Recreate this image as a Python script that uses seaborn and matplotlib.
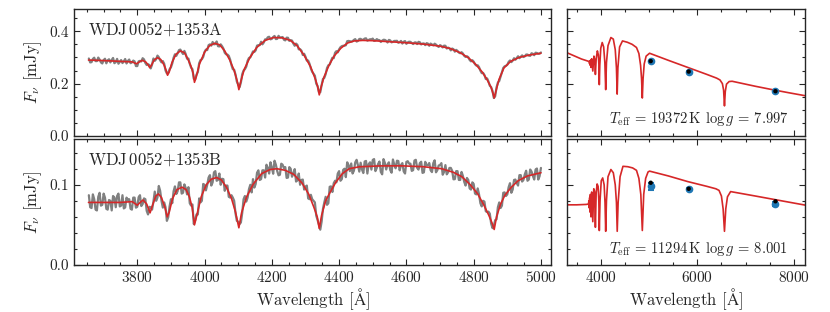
import numpy as np
import matplotlib
matplotlib.use("Agg")
import matplotlib.pyplot as plt
from matplotlib.ticker import MultipleLocator, FormatStrFormatter
import seaborn as sns

# ---- observed spectra (read off the figure, 4 A sampling:
#      "even" points at 3656+8k, "odd" points at 3660+8k) ----
wave_obs = np.arange(3656, 5001, 4)

flux_obs_A_even = [
    0.296, 0.282, 0.299, 0.286, 0.292, 0.277, 0.295, 0.289, 0.281, 0.298,
    0.282, 0.276, 0.290, 0.285, 0.277, 0.292, 0.281, 0.285, 0.267, 0.287,
    0.297, 0.279, 0.274, 0.258, 0.296, 0.293, 0.301, 0.281, 0.276, 0.239,
    0.255, 0.277, 0.312, 0.316, 0.330, 0.313, 0.313, 0.296, 0.261, 0.218,
    0.234, 0.278, 0.293, 0.321, 0.328, 0.350, 0.359, 0.351, 0.343, 0.350,
    0.334, 0.312, 0.306, 0.271, 0.253, 0.208, 0.186, 0.236, 0.255, 0.287,
    0.300, 0.323, 0.327, 0.347, 0.360, 0.357, 0.369, 0.379, 0.371, 0.382,
    0.371, 0.376, 0.378, 0.365, 0.375, 0.366, 0.353, 0.353, 0.331, 0.326,
    0.314, 0.288, 0.276, 0.245, 0.230, 0.191, 0.167, 0.218, 0.236, 0.270,
    0.287, 0.297, 0.324, 0.331, 0.343, 0.345, 0.362, 0.362, 0.362, 0.370,
    0.363, 0.371, 0.368, 0.373, 0.367, 0.369, 0.363, 0.370, 0.366, 0.364,
    0.367, 0.357, 0.365, 0.360, 0.363, 0.356, 0.363, 0.360, 0.352, 0.360,
    0.355, 0.357, 0.351, 0.358, 0.353, 0.347, 0.353, 0.353, 0.346, 0.349,
    0.340, 0.344, 0.345, 0.334, 0.335, 0.334, 0.322, 0.325, 0.316, 0.315,
    0.302, 0.301, 0.285, 0.284, 0.269, 0.263, 0.240, 0.233, 0.220, 0.192,
    0.172, 0.152, 0.204, 0.227, 0.260, 0.268, 0.283, 0.282, 0.297, 0.298,
    0.297, 0.308, 0.304, 0.311, 0.306, 0.314, 0.318, 0.314, 0.319,
]
flux_obs_A_odd = [
    0.281, 0.2945, 0.286, 0.2995, 0.281, 0.290, 0.2775, 0.293, 0.2905, 0.278,
    0.2945, 0.283, 0.2785, 0.294, 0.2865, 0.278, 0.288, 0.267, 0.285, 0.2845,
    0.2925, 0.271, 0.271, 0.273, 0.287, 0.307, 0.289, 0.286, 0.250, 0.241,
    0.262, 0.299, 0.306, 0.328, 0.321, 0.325, 0.295, 0.276, 0.255, 0.215,
    0.244, 0.290, 0.302, 0.330, 0.347, 0.345, 0.350, 0.361, 0.342, 0.343,
    0.318, 0.311, 0.292, 0.255, 0.235, 0.196, 0.204, 0.250, 0.265, 0.298,
    0.312, 0.321, 0.345, 0.347, 0.350, 0.369, 0.377, 0.369, 0.378, 0.370,
    0.3825, 0.3765, 0.3675, 0.3755, 0.363, 0.3645, 0.3445, 0.348, 0.3315, 0.3095,
    0.303, 0.288, 0.258, 0.238, 0.200, 0.167, 0.194, 0.222, 0.2595, 0.273,
    0.299, 0.318, 0.3195, 0.339, 0.3445, 0.3465, 0.363, 0.3605, 0.367, 0.3605,
    0.3705, 0.367, 0.372, 0.364, 0.3695, 0.372, 0.3645, 0.3665, 0.359, 0.3675,
    0.3635, 0.367, 0.3575, 0.363, 0.3635, 0.3585, 0.353, 0.3625, 0.3575, 0.3595,
    0.351, 0.3575, 0.3595, 0.3495, 0.3535, 0.3545, 0.3445, 0.3495, 0.3525, 0.344,
    0.347, 0.338, 0.3445, 0.3375, 0.327, 0.3315, 0.329, 0.3185, 0.320, 0.306,
    0.3045, 0.2905, 0.2895, 0.274, 0.270, 0.2495, 0.241, 0.2175, 0.208, 0.1865,
    0.145, 0.186, 0.210, 0.245, 0.266, 0.272, 0.2885, 0.288, 0.291, 0.3045,
    0.3025, 0.3015, 0.311, 0.307, 0.316, 0.3085, 0.317, 0.3145,
]

flux_obs_B_even = [
    0.087, 0.071, 0.082, 0.068, 0.090, 0.075, 0.084, 0.069, 0.080, 0.086,
    0.072, 0.089, 0.074, 0.0705, 0.084, 0.082, 0.069, 0.084, 0.0725, 0.087,
    0.076, 0.082, 0.063, 0.072, 0.079, 0.080, 0.0985, 0.080, 0.078, 0.055,
    0.073, 0.077, 0.098, 0.092, 0.103, 0.090, 0.096, 0.097, 0.074, 0.051,
    0.063, 0.083, 0.080, 0.100, 0.100, 0.112, 0.103, 0.117, 0.106, 0.100,
    0.107, 0.099, 0.085, 0.087, 0.080, 0.055, 0.051, 0.065, 0.086, 0.084,
    0.100, 0.107, 0.101, 0.118, 0.107, 0.118, 0.125, 0.114, 0.1215, 0.130,
    0.117, 0.1125, 0.125, 0.122, 0.109, 0.120, 0.114, 0.104, 0.114, 0.106,
    0.094, 0.099, 0.082, 0.082, 0.078, 0.056, 0.044, 0.070, 0.085, 0.077,
    0.098, 0.102, 0.103, 0.117, 0.107, 0.120, 0.128, 0.117, 0.114, 0.128,
    0.1242, 0.1275, 0.1146, 0.1297, 0.1258, 0.1189, 0.132, 0.121, 0.129, 0.113,
    0.1272, 0.1253, 0.1184, 0.1315, 0.1205, 0.1296, 0.1246, 0.1166, 0.1285, 0.1264,
    0.1173, 0.1302, 0.1211, 0.127, 0.1148, 0.1286, 0.1244, 0.1182, 0.127, 0.1155,
    0.124, 0.127, 0.116, 0.113, 0.121, 0.1175, 0.107, 0.117, 0.106, 0.111,
    0.099, 0.106, 0.094, 0.101, 0.088, 0.088, 0.073, 0.079, 0.066, 0.064,
    0.046, 0.056, 0.072, 0.071, 0.090, 0.086, 0.097, 0.090, 0.106, 0.102,
    0.112, 0.104, 0.113, 0.105, 0.119, 0.111, 0.119, 0.1065, 0.121,
]
flux_obs_B_odd = [
    0.072, 0.088, 0.069, 0.085, 0.074, 0.089, 0.070, 0.081, 0.068, 0.084,
    0.086, 0.073, 0.087, 0.0717, 0.081, 0.070, 0.084, 0.0715, 0.0845, 0.0735,
    0.083, 0.0675, 0.0725, 0.069, 0.0915, 0.084, 0.0925, 0.0715, 0.072, 0.0595,
    0.082, 0.092, 0.0885, 0.103, 0.089, 0.1005, 0.088, 0.077, 0.0755, 0.0555,
    0.063, 0.078, 0.101, 0.093, 0.109, 0.099, 0.1155, 0.105, 0.114, 0.1075,
    0.0925, 0.099, 0.084, 0.084, 0.0645, 0.054, 0.053, 0.082, 0.079, 0.0945,
    0.0905, 0.0965, 0.115, 0.106, 0.118, 0.109, 0.121, 0.128, 0.11375, 0.125,
    0.11175, 0.12625, 0.1205, 0.1085, 0.122, 0.110, 0.1195, 0.1055, 0.100, 0.1065,
    0.0975, 0.083, 0.0875, 0.080, 0.0615, 0.050, 0.054, 0.078, 0.075, 0.0975,
    0.091, 0.105, 0.114, 0.105, 0.1185, 0.1095, 0.1245, 0.1265, 0.1175, 0.1311,
    0.1164, 0.119, 0.129, 0.114, 0.128, 0.131, 0.117, 0.126, 0.116, 0.132,
    0.119, 0.128, 0.115, 0.125, 0.130, 0.118, 0.127, 0.114, 0.1294, 0.1263,
    0.1182, 0.1311, 0.1189, 0.1287, 0.1155, 0.1243, 0.1271, 0.1158, 0.1305, 0.1182,
    0.1245, 0.1125, 0.1245, 0.1155, 0.121, 0.1068, 0.117, 0.106, 0.116, 0.1035,
    0.1085, 0.0955, 0.103, 0.089, 0.0955, 0.077, 0.080, 0.067, 0.0665, 0.0515,
    0.049, 0.057, 0.078, 0.074, 0.0905, 0.088, 0.102, 0.094, 0.1065, 0.099,
    0.112, 0.106, 0.1175, 0.1065, 0.1165, 0.1065, 0.12025, 0.11075,
]

# ---- best-fit model spectra ----
wave_mod_A = [3655, 3700, 3750, 3785, 3793, 3798, 3805, 3815, 3825, 3832,
              3837, 3842, 3850, 3860, 3870, 3880, 3886, 3890, 3895, 3903,
              3915, 3928, 3940, 3950, 3960, 3966, 3970, 3975, 3985, 4000,
              4015, 4030, 4045, 4060, 4075, 4088, 4097, 4102, 4107, 4118,
              4135, 4155, 4180, 4205, 4230, 4255, 4275, 4295, 4315, 4330,
              4337, 4341, 4346, 4355, 4370, 4385, 4405, 4425, 4445, 4470,
              4500, 4550, 4600, 4650, 4700, 4730, 4760, 4785, 4805, 4825,
              4840, 4852, 4858, 4861, 4865, 4875, 4890, 4910, 4935, 4965,
              5000]
flux_mod_A = [0.290, 0.288, 0.285, 0.283, 0.278, 0.276, 0.282, 0.289, 0.283, 0.272,
              0.261, 0.270, 0.290, 0.299, 0.292, 0.270, 0.250, 0.232, 0.245, 0.280,
              0.312, 0.325, 0.318, 0.295, 0.265, 0.240, 0.205, 0.225, 0.275, 0.320,
              0.345, 0.354, 0.348, 0.325, 0.290, 0.250, 0.210, 0.177, 0.205, 0.255,
              0.300, 0.338, 0.365, 0.376, 0.375, 0.365, 0.345, 0.310, 0.265, 0.215,
              0.185, 0.157, 0.185, 0.225, 0.270, 0.305, 0.335, 0.355, 0.363, 0.365,
              0.364, 0.360, 0.356, 0.351, 0.343, 0.334, 0.318, 0.298, 0.275, 0.245,
              0.215, 0.185, 0.160, 0.145, 0.165, 0.215, 0.260, 0.285, 0.300, 0.309,
              0.316]

wave_mod_B = [3655, 3700, 3750, 3785, 3795, 3800, 3806, 3817, 3828, 3838,
              3845, 3855, 3863, 3872, 3882, 3889, 3895, 3905, 3918, 3933,
              3945, 3955, 3963, 3970, 3977, 3990, 4005, 4020, 4036, 4050,
              4065, 4080, 4092, 4102, 4110, 4125, 4145, 4170, 4195, 4215,
              4240, 4265, 4290, 4310, 4325, 4335, 4341, 4348, 4360, 4375,
              4390, 4410, 4430, 4460, 4520, 4585, 4650, 4705, 4740, 4765,
              4790, 4812, 4830, 4845, 4855, 4861, 4868, 4880, 4893, 4912,
              4932, 4960, 5000]
flux_mod_B = [0.078, 0.078, 0.078, 0.079, 0.076, 0.0745, 0.077, 0.081, 0.076, 0.065,
              0.074, 0.086, 0.0886, 0.084, 0.072, 0.060, 0.066, 0.083, 0.094, 0.097,
              0.094, 0.085, 0.072, 0.050, 0.062, 0.085, 0.100, 0.107, 0.109, 0.106,
              0.097, 0.083, 0.066, 0.0464, 0.065, 0.085, 0.101, 0.114, 0.119, 0.120,
              0.118, 0.113, 0.102, 0.088, 0.072, 0.060, 0.0456, 0.062, 0.080, 0.092,
              0.103, 0.114, 0.120, 0.1224, 0.1235, 0.1236, 0.1225, 0.120, 0.1155, 0.110,
              0.100, 0.0886, 0.075, 0.062, 0.052, 0.0443, 0.060, 0.076, 0.087, 0.097,
              0.105, 0.111, 0.115]

# ---- broad-band model SEDs ----
wave_sed_A = [3300, 3400, 3500, 3600, 3700, 3750, 3762, 3768, 3774, 3781,
              3790, 3798, 3812, 3835, 3858, 3875, 3889, 3905, 3930, 3950,
              3962, 3970, 3980, 4000, 4030, 4060, 4085, 4102, 4118, 4150,
              4210, 4260, 4300, 4325, 4340, 4355, 4390, 4450, 4550, 4650,
              4740, 4790, 4825, 4845, 4861, 4877, 4900, 4940, 5011, 5400,
              5800, 6200, 6400, 6470, 6520, 6545, 6563, 6580, 6605, 6660,
              6722, 7200, 7554, 7900, 8230]
flux_sed_A = [0.318, 0.310, 0.302, 0.294, 0.288, 0.285, 0.283, 0.276, 0.286, 0.270,
              0.290, 0.262, 0.295, 0.248, 0.305, 0.290, 0.235, 0.295, 0.325, 0.310,
              0.270, 0.196, 0.270, 0.335, 0.357, 0.340, 0.280, 0.177, 0.280, 0.345,
              0.376, 0.370, 0.330, 0.260, 0.160, 0.260, 0.340, 0.363, 0.358, 0.350,
              0.338, 0.315, 0.270, 0.220, 0.145, 0.220, 0.275, 0.305, 0.316, 0.289,
              0.262, 0.235, 0.221, 0.214, 0.200, 0.175, 0.115, 0.170, 0.198, 0.208,
              0.209, 0.190, 0.177, 0.165, 0.154]

wave_sed_B = [3300, 3500, 3700, 3745, 3755, 3762, 3770, 3775, 3785, 3798,
              3812, 3835, 3855, 3870, 3889, 3905, 3925, 3945, 3960, 3970,
              3985, 4010, 4040, 4070, 4088, 4102, 4118, 4150, 4210, 4260,
              4300, 4325, 4341, 4360, 4400, 4460, 4560, 4660, 4740, 4790,
              4830, 4861, 4890, 4930, 4980, 5011, 5400, 5800, 6200, 6385,
              6450, 6500, 6535, 6563, 6590, 6625, 6690, 7200, 7700, 8230]
flux_sed_B = [0.075, 0.075, 0.0755, 0.076, 0.080, 0.071, 0.084, 0.066, 0.088, 0.060,
              0.091, 0.054, 0.095, 0.092, 0.047, 0.090, 0.101, 0.098, 0.080, 0.043,
              0.080, 0.105, 0.1085, 0.100, 0.078, 0.042, 0.080, 0.110, 0.119, 0.115,
              0.100, 0.078, 0.042, 0.078, 0.110, 0.123, 0.1225, 0.121, 0.118, 0.108,
              0.088, 0.043, 0.088, 0.108, 0.116, 0.117, 0.111, 0.104, 0.098, 0.095,
              0.093, 0.086, 0.070, 0.042, 0.070, 0.085, 0.0915, 0.086, 0.0805, 0.0747]

# ---- Gaia photometry (BP, G, RP) ----
phot_wave = [5035, 5822, 7619]
phot_obs_A = [0.286, 0.246, 0.171]
phot_err_A = [0.002, 0.001, 0.002]
phot_syn_A = [0.286, 0.246, 0.171]
phot_obs_B = [0.098, 0.095, 0.076]
phot_err_B = [0.004, 0.001, 0.003]
phot_syn_B = [0.1025, 0.095, 0.0794]

names = ["WDJ$\\,$0052$+$1353A", "WDJ$\\,$0052$+$1353B"]
params = [(19372, 7.997), (11294, 8.001)]
ylims = [0.485, 0.157]


def interleave(even, odd):
    out = np.empty(len(even) + len(odd))
    out[0::2] = even
    out[1::2] = odd
    return out


flux_obs_A = interleave(flux_obs_A_even, flux_obs_A_odd)
flux_obs_B = interleave(flux_obs_B_even, flux_obs_B_odd)

sns.set_style("ticks")
plt.rcParams["font.family"] = ["cmr10", "DejaVu Serif"]
plt.rcParams["mathtext.fontset"] = "cm"
plt.rcParams["axes.formatter.use_mathtext"] = True
plt.rcParams["axes.unicode_minus"] = False
plt.rcParams["font.size"] = 11

red = "#d62728"
blue = "#1f77b4"

fig = plt.figure(figsize=(8.3, 3.12), dpi=100)
rows = [(0.5641, 0.4071), (0.1506, 0.4038)]
spec = [(flux_obs_A, wave_mod_A, flux_mod_A, wave_sed_A, flux_sed_A, phot_obs_A, phot_err_A, phot_syn_A),
        (flux_obs_B, wave_mod_B, flux_mod_B, wave_sed_B, flux_sed_B, phot_obs_B, phot_err_B, phot_syn_B)]

for i, (fo, wm, fm, ws, fs, po, pe, ps) in enumerate(spec):
    y0, h = rows[i]
    axl = fig.add_axes([0.0892, y0, 0.5747, h])
    axr = fig.add_axes([0.6831, y0, 0.2867, h])

    sns.lineplot(x=wave_obs, y=fo, ax=axl, color="#808080", lw=1.6,
                 estimator=None, sort=False)
    sns.lineplot(x=wm, y=fm, ax=axl, color=red, lw=1.2, estimator=None, sort=False)

    sns.lineplot(x=ws, y=fs, ax=axr, color=red, lw=1.2, estimator=None, sort=False)
    axr.errorbar(phot_wave, po, yerr=pe, fmt="o", color=blue, ms=4.5,
                 capsize=2.5, elinewidth=1.5, capthick=1.5, zorder=3)
    sns.scatterplot(x=phot_wave, y=ps, ax=axr, color="black", s=10,
                    edgecolor="none", zorder=4)

    axl.text(0.03, 0.84, names[i], transform=axl.transAxes, ha="left",
             va="center", fontsize=12)
    t, g = params[i]
    axr.text(0.93, 0.13, r"$T_{\rm eff}$ = %d$\,$K $\log g$ = %.3f" % (t, g),
             transform=axr.transAxes, ha="right", va="center", fontsize=10.5)

    axl.set_xlim(3612, 5030)
    axr.set_xlim(3300, 8230)
    for ax in (axl, axr):
        ax.set_ylim(0, ylims[i])
        ax.tick_params(which="both", direction="in", top=True, right=True,
                       labelsize=11, width=0.8)
        ax.tick_params(which="major", length=4.5)
        ax.tick_params(which="minor", length=2.5)
        for sp in ax.spines.values():
            sp.set_linewidth(1.0)
        ax.set_xlabel("")
        ax.set_ylabel("")
    if i == 0:
        for ax in (axl, axr):
            ax.yaxis.set_major_locator(MultipleLocator(0.2))
            ax.yaxis.set_minor_locator(MultipleLocator(0.05))
            ax.tick_params(labelbottom=False)
    else:
        for ax in (axl, axr):
            ax.yaxis.set_major_locator(MultipleLocator(0.1))
            ax.yaxis.set_minor_locator(MultipleLocator(0.02))
            ax.set_xlabel(r"Wavelength [$\mathrm{\AA}$]", fontsize=12, labelpad=1)
    axl.yaxis.set_major_formatter(FormatStrFormatter("%.1f"))
    axr.tick_params(labelleft=False)
    axl.xaxis.set_major_locator(MultipleLocator(200))
    axl.xaxis.set_minor_locator(MultipleLocator(50))
    axr.xaxis.set_major_locator(MultipleLocator(2000))
    axr.xaxis.set_minor_locator(MultipleLocator(500))
    axl.set_ylabel(r"$F_\nu$ [mJy]", fontsize=12)

fig.savefig("out.png", dpi=100)
